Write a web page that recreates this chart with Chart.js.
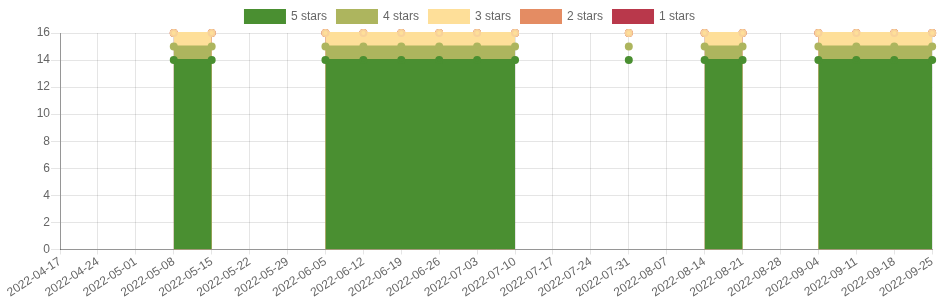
<!DOCTYPE html>
<html>
<head>
<meta charset="utf-8">
<script src="https://cdn.jsdelivr.net/npm/chart.js@4"></script>
<style>
  body { margin: 0; background: #fff; }
  #wrap { width: 940px; height: 300px; }
</style>
</head>
<body>
<div id="wrap"><canvas id="myChart"></canvas></div>
<script>
'use strict'

//data
const weeks = ['2022-04-17', '2022-04-24', '2022-05-01', '2022-05-08', '2022-05-15', '2022-05-22',
  '2022-05-29', '2022-06-05', '2022-06-12', '2022-06-19', '2022-06-26', '2022-07-03',
  '2022-07-10', '2022-07-17', '2022-07-24', '2022-07-31', '2022-08-07', '2022-08-14',
  '2022-08-21', '2022-08-28', '2022-09-04', '2022-09-11', '2022-09-18', '2022-09-25'];

const N = null;
const fiveStars  = [N, N, N, 14, 14, N, N, 14, 14, 14, 14, 14, 14, N, N, 14, N, 14, 14, N, 14, 14, 14, 14];
const fourStars  = [N, N, N, 1, 1, N, N, 1, 1, 1, 1, 1, 1, N, N, 1, N, 1, 1, N, 1, 1, 1, 1];
const threeStars = [N, N, N, 1, 1, N, N, 1, 1, 1, 1, 1, 1, N, N, 1, N, 1, 1, N, 1, 1, 1, 1];
const twoStars   = [N, N, N, 0, 0, N, N, 0, 0, 0, 0, 0, 0, N, N, 0, N, 0, 0, N, 0, 0, 0, 0];
const oneStar    = [N, N, N, 0, 0, N, N, 0, 0, 0, 0, 0, 0, N, N, 0, N, 0, 0, N, 0, 0, 0, 0];

const yTicksMax = 16;
const yTicksStep = 2;

function makeSet(label, data, color, edge) {
  return {
    label: label,
    data: data,
    backgroundColor: color,
    borderColor: color,
    pointBackgroundColor: color,
    pointBorderColor: edge || color,
    borderWidth: 2,
    pointRadius: 3,
    pointBorderWidth: 2,
    fill: 'origin',
    spanGaps: false,
    clip: false,
    tension: 0
  };
}

const data = {
  labels: weeks,
  datasets: [
    makeSet('5 stars', fiveStars, '#4a8f31'),
    makeSet('4 stars', fourStars, '#adb55e'),
    makeSet('3 stars', threeStars, '#fedf99', '#f8d29a'),
    makeSet('2 stars', twoStars, '#e48c63'),
    makeSet('1 stars', oneStar, '#b9384b')
  ]
};

const font = { family: 'Liberation Sans, Arial, sans-serif', size: 12 };

const config = {
  type: 'line',
  data: data,
  options: {
    responsive: true,
    maintainAspectRatio: false,
    animation: false,
    layout: { padding: { left: 0, right: 0 } },
    plugins: {
      legend: {
        labels: { boxWidth: 40, boxHeight: 13, color: '#666', font: font }
      },
      tooltip: { enabled: false }
    },
    scales: {
      x: {
        grid: { color: 'rgba(0,0,0,0.1)', tickLength: 5 },
        border: { color: 'rgba(0,0,0,0.35)' },
        ticks: { color: '#666', font: font, padding: 0, minRotation: 33, maxRotation: 33, autoSkip: false }
      },
      y: {
        stacked: true,
        min: 0,
        max: yTicksMax,
        afterFit: function(scale) { scale.width = 60; },
        grid: { color: 'rgba(0,0,0,0.1)', tickLength: 9 },
        border: { color: 'rgba(0,0,0,0.35)' },
        ticks: { stepSize: yTicksStep, color: '#666', font: font, padding: 1 }
      }
    }
  }
};

let canvasChart = document.getElementById('myChart');
const myChart = new Chart(canvasChart, config);
</script>
</body>
</html>
